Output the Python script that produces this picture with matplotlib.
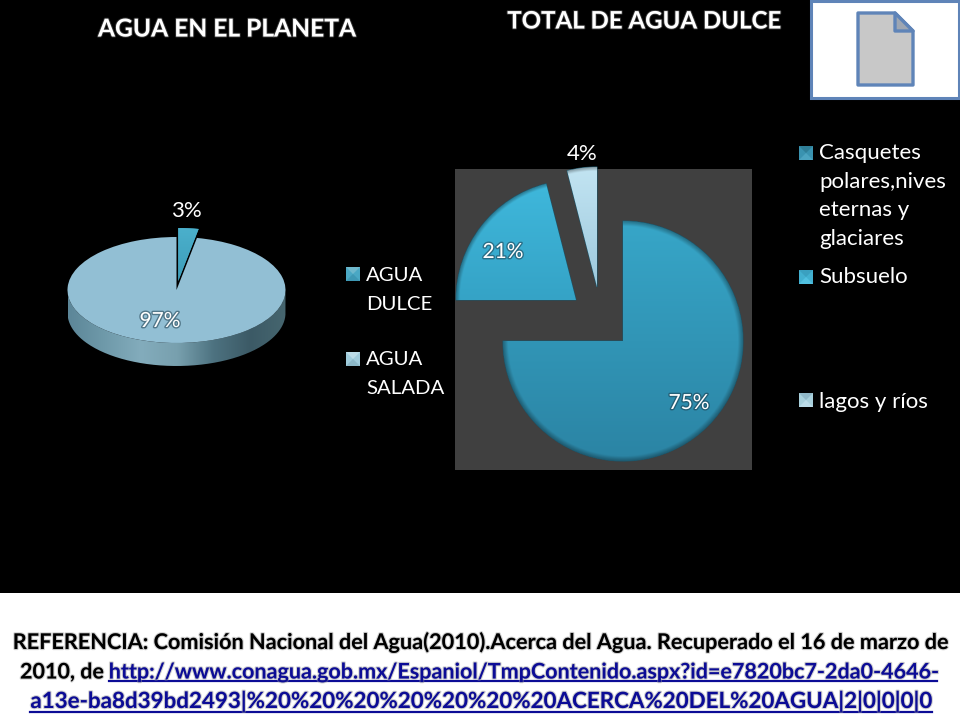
import numpy as np
import matplotlib
matplotlib.use('Agg')
import matplotlib.pyplot as plt
import matplotlib.patheffects as pe
from matplotlib.colors import LinearSegmentedColormap, to_rgb
from matplotlib.patches import Polygon, Rectangle, PathPatch
from matplotlib.path import Path

plt.rcParams['font.family'] = ['Lato', 'DejaVu Sans']

# data
planeta_labels = ['AGUA\nDULCE', 'AGUA\nSALADA']
planeta_vals = [3, 97]
dulce_labels = ['Casquetes\npolares,nives\neternas y\nglaciares', 'Subsuelo', 'lagos y ríos']
dulce_vals = [75, 21, 4]

title_left = 'AGUA EN EL PLANETA'
title_right = 'TOTAL DE AGUA DULCE'
ref_line1 = 'REFERENCIA: Comisión Nacional del Agua(2010).Acerca del Agua. Recuperado el 16 de marzo de'
ref_line2a = '2010, de '
ref_line2b = 'http://www.conagua.gob.mx/Espaniol/TmpContenido.aspx?id=e7820bc7-2da0-4646-'
ref_line3 = 'a13e-ba8d39bd2493|%20%20%20%20%20%20%20ACERCA%20DEL%20AGUA|2|0|0|0|0'

W, H = 960, 720
LINK = '#0c0c96'


def px_axes(fig, x0, y0, x1, y1):
    # axes from a pixel box, y counted from the top
    ax = fig.add_axes([x0 / W, 1 - y1 / H, (x1 - x0) / W, (y1 - y0) / H])
    ax.patch.set_visible(False)
    return ax


def shade(ax, wedge, top, bottom, rim=0.0):
    # vertical gradient clipped to a wedge, a bit darker at the outer rim
    cx, cy = wedge.center
    xs = np.linspace(cx - 1, cx + 1, 300)
    ys = np.linspace(cy + 1, cy - 1, 300)
    xx, yy = np.meshgrid(xs, ys)
    t = (cy + 1 - yy) / 2
    c0, c1 = np.array(to_rgb(top)), np.array(to_rgb(bottom))
    img = c0 + (c1 - c0) * t[..., None]
    r = np.hypot(xx - cx, yy - cy)
    edge = np.clip((r - (1 - rim)) / max(rim, 1e-6), 0, 1) if rim else 0 * r
    img = img * (1 - 0.3 * edge[..., None])
    im = ax.imshow(np.clip(img, 0, 1), extent=(cx - 1, cx + 1, cy - 1, cy + 1),
                   aspect='auto', zorder=3, interpolation='bilinear')
    im.set_clip_path(wedge)


def swatch(ax, x, y, s, light, mid, dark):
    # little bevelled legend square
    c = (x + s / 2, y + s / 2)
    ax.add_patch(Rectangle((x, y), s, s, color=mid, lw=0))
    ax.add_patch(Polygon([(x, y), (x + s, y), c], color=light, lw=0))
    ax.add_patch(Polygon([(x, y + s), (x + s, y + s), c], color=dark, lw=0))


fig = plt.figure(figsize=(9.6, 7.2), dpi=100, facecolor='black')

bg = fig.add_axes([0, 0, 1, 1])
bg.set_xlim(0, W)
bg.set_ylim(H, 0)
bg.axis('off')
bg.add_patch(Rectangle((0, 593), W, 127, color='white', lw=0))
bg.add_patch(Rectangle((455, 169), 297, 301, color='#404040', lw=0))

# document thumbnail, top right
bg.add_patch(Rectangle((810.5, 0.5), 148.5, 97.5, fc='white', ec='#5f84b8', lw=2.2))
bg.add_patch(Polygon([(858, 13), (895, 13), (913, 31), (913, 85), (858, 85)], closed=True,
                     fc='#c8c8c8', ec='#5f84b8', lw=2.4, joinstyle='round'))
bg.add_patch(Polygon([(895, 13), (913, 31), (895, 31)], closed=True,
                     fc='#9ea6b2', ec='#5f84b8', lw=2.4, joinstyle='round'))

# left pie, flattened to look 3d
CX, CY, RX, RY, DEPTH = 176.5, 290, 109, 53, 23
pie1 = px_axes(fig, CX - 1.4 * RX, CY - 1.6 * RY, CX + 1.4 * RX, CY + 1.6 * RY)
w1, _ = pie1.pie(planeta_vals, startangle=90, counterclock=False, explode=[0.17, 0],
                 colors=['#3f9db8', '#92bfd4'], radius=1)
pie1.set_aspect('auto')

th = np.linspace(np.pi, 2 * np.pi, 200)
d = DEPTH / RY
top_edge = np.c_[np.cos(th), np.sin(th)]
low_edge = np.c_[np.cos(th[::-1]), np.sin(th[::-1]) - d]
wall = PathPatch(Path(np.r_[top_edge, low_edge, top_edge[:1]]), fc='none', ec='none')
pie1.add_patch(wall)
wall_cmap = LinearSegmentedColormap.from_list(
    'wall', ['#5c8698', '#6f9aaa', '#83acbc', '#78a0ae', '#4d7280', '#3c5a66', '#46666f'])
im = pie1.imshow(np.linspace(0, 1, 256)[None, :], cmap=wall_cmap, aspect='auto',
                 extent=(-1, 1, -1 - d, 0.1), zorder=0.5)
im.set_clip_path(wall)
shade(pie1, w1[0], '#4bb0cc', '#2f8aa6')
pie1.set_xlim(-1.4, 1.4)
pie1.set_ylim(-1.6, 1.6)

# right pie, the two small slices are pulled out by hand
R = 120
pie2 = px_axes(fig, 623 - 1.7 * R, 341 - 1.7 * R, 623 + 1.7 * R, 341 + 1.7 * R)
w2, _ = pie2.pie(dulce_vals, startangle=90, counterclock=False,
                 colors=['#3398b8', '#38a8cc', '#a0d0e4'], radius=1,
                 wedgeprops={'edgecolor': '#1c5468', 'linewidth': 0.8})
w2[1].set_center((-47 / R, 41 / R))
w2[2].set_center((-26 / R, 54 / R))
shade(pie2, w2[0], '#37a6c8', '#2b84a4', rim=0.04)
shade(pie2, w2[1], '#3fb8dc', '#2b8eb0', rim=0.03)
shade(pie2, w2[2], '#c2e4f2', '#78aec8', rim=0.03)
pie2.set_xlim(-1.7, 1.7)
pie2.set_ylim(-1.7, 1.7)

# text layer
fg = fig.add_axes([0, 0, 1, 1])
fg.patch.set_visible(False)
fg.set_xlim(0, W)
fg.set_ylim(H, 0)
fg.axis('off')

title_fx = [pe.withStroke(linewidth=1.4, foreground='#555555', alpha=0.6)]
fg.text(227.5, 29, title_left, color='white', fontsize=17.7, fontweight='bold',
        ha='center', va='center', path_effects=title_fx)
fg.text(644, 21, title_right, color='white', fontsize=17.3, fontweight='bold',
        ha='center', va='center', path_effects=title_fx)

pct_fx = [pe.withStroke(linewidth=2, foreground='#1c3c4c', alpha=0.55)]
fg.text(186, 211, f'{planeta_vals[0]}%', color='white', fontsize=16, ha='center', va='center')
fg.text(160, 321, f'{planeta_vals[1]}%', color='white', fontsize=15, ha='center', va='center',
        path_effects=pct_fx)
fg.text(689, 403, f'{dulce_vals[0]}%', color='white', fontsize=15, ha='center', va='center',
        path_effects=pct_fx)
fg.text(503, 252, f'{dulce_vals[1]}%', color='white', fontsize=15, ha='center', va='center',
        path_effects=pct_fx)
fg.text(582, 154, f'{dulce_vals[2]}%', color='white', fontsize=16, ha='center', va='center')

# legends
LEG_L = dict(color='white', fontsize=14.7, ha='left', va='center', linespacing=1.79)
LEG_R = dict(color='white', fontsize=16, ha='left', va='center', linespacing=1.56)
swatch(fg, 346, 267, 14, '#6fb8cc', '#4aa8c4', '#3e98b4')
fg.text(366, 290, planeta_labels[0], **LEG_L)
swatch(fg, 346, 352, 14, '#bcdce8', '#a0ccdc', '#8cb8c8')
fg.text(366, 374, planeta_labels[1], **LEG_L)
swatch(fg, 799, 146, 14, '#2f7f98', '#3a93b0', '#4ca4c0')
fg.text(819, 196, dulce_labels[0], **LEG_R)
swatch(fg, 799, 270, 14, '#3aa0c0', '#42b0d0', '#50c0e0')
fg.text(819, 277, dulce_labels[1], **LEG_R)
swatch(fg, 799, 393, 14, '#90b8c8', '#a8d0dc', '#bcdce8')
fg.text(819, 402, dulce_labels[2], **LEG_R)

# reference text at the bottom
ref_fx = [pe.withStroke(linewidth=1.6, foreground='#999999', alpha=0.45)]
REF = dict(fontweight='bold', va='center', path_effects=ref_fx)
fg.text(481, 642, ref_line1, color='black', ha='center', fontsize=15.6, **REF)

renderer = fig.canvas.get_renderer()
t_a = fg.text(20, 672, ref_line2a, color='black', ha='left', fontsize=15.5, **REF)
x_link = t_a.get_window_extent(renderer).x1
t_b = fg.text(x_link, 672, ref_line2b, color=LINK, ha='left', fontsize=15.5, **REF)
x_end = t_b.get_window_extent(renderer).x1
fg.plot([x_link, x_end], [681, 681], color=LINK, lw=1.6)

t_c = fg.text(481, 701, ref_line3, color=LINK, ha='center', fontsize=16.1, **REF)
box = t_c.get_window_extent(renderer)
fg.plot([box.x0, box.x1], [712, 712], color=LINK, lw=1.6)

fig.savefig('out.png', dpi=100, facecolor='black')
